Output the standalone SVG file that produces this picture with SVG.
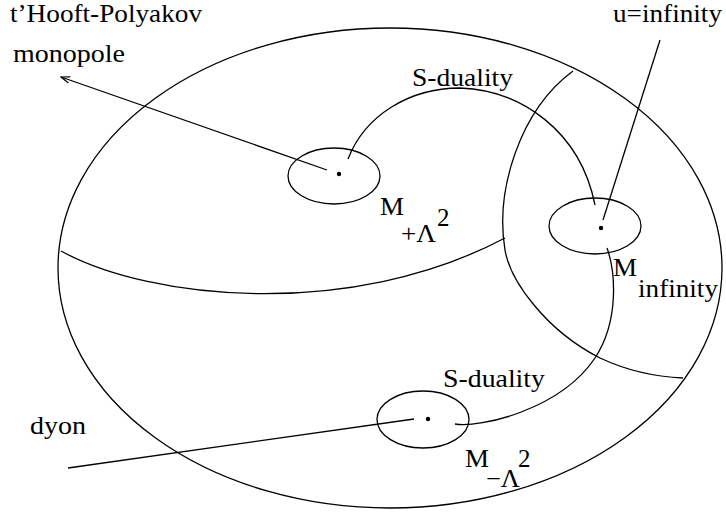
<svg xmlns="http://www.w3.org/2000/svg" width="726" height="514" viewBox="0 0 726 514">
<style>
.ln{fill:none;stroke:#000;stroke-width:1.3}
.t{font-family:'Liberation Serif','Times New Roman',serif;font-size:25px;fill:#000}
.dot{fill:#000}
</style>
<defs>
<marker id="ah" markerWidth="10" markerHeight="8" refX="9" refY="4" orient="auto" markerUnits="userSpaceOnUse">
<path d="M0,0.8 L9,4 L0,7.2" fill="none" stroke="#000" stroke-width="1.2"/>
</marker>
</defs>
<g id="plane"><ellipse class="ln" cx="390" cy="268" rx="332" ry="240"/></g>
<g id="connectors">
<path class="ln" d="M573,71 C520,110 495,190 505,250 C510,280 545,330 600,358 C630,372 660,377 683,378"/>
<path class="ln" d="M61,251 C150,300 350,320 505,238"/>
<path class="ln" d="M348,159 C365,115 410,88 460,88 C520,90 580,130 595,205"/>
<path class="ln" d="M455,424 C480,428 560,410 595,358 C620,320 615,270 607,248"/>
<line class="ln" x1="327" y1="170" x2="61" y2="77" marker-end="url(#ah)"/>
<line class="ln" x1="414" y1="419" x2="68" y2="468"/>
<line class="ln" x1="660" y1="40" x2="603" y2="220"/>
</g>
<g id="node-plus"><ellipse class="ln" cx="334" cy="176" rx="46" ry="28"/><circle class="dot" cx="339" cy="174" r="2.2"/>
<text class="t" x="380" y="215" textLength="24" lengthAdjust="spacingAndGlyphs">M</text><text class="t" x="401" y="242" textLength="35" lengthAdjust="spacingAndGlyphs">+Λ</text><text class="t" x="437" y="226">2</text></g>
<g id="node-inf"><ellipse class="ln" cx="595" cy="226" rx="46" ry="28"/><circle class="dot" cx="601" cy="228" r="2.2"/>
<text class="t" x="613" y="276" textLength="24" lengthAdjust="spacingAndGlyphs">M</text><text class="t" x="638" y="297" textLength="80" lengthAdjust="spacingAndGlyphs">infinity</text></g>
<g id="node-minus"><ellipse class="ln" cx="423" cy="419.5" rx="46" ry="28.5"/><circle class="dot" cx="428" cy="419" r="2.2"/>
<text class="t" x="465" y="467" textLength="24" lengthAdjust="spacingAndGlyphs">M</text><text class="t" x="486" y="487" textLength="34" lengthAdjust="spacingAndGlyphs">−Λ</text><text class="t" x="518" y="467">2</text></g>
<g id="labels">
<text class="t" x="10" y="22" textLength="192" lengthAdjust="spacingAndGlyphs">t’Hooft-Polyakov</text>
<text class="t" x="13" y="62" textLength="112" lengthAdjust="spacingAndGlyphs">monopole</text>
<text class="t" x="613" y="22" textLength="109" lengthAdjust="spacingAndGlyphs">u=infinity</text>
<text class="t" x="412" y="86" textLength="101" lengthAdjust="spacingAndGlyphs">S-duality</text>
<text class="t" x="443" y="387" textLength="102" lengthAdjust="spacingAndGlyphs">S-duality</text>
<text class="t" x="30" y="434" textLength="56" lengthAdjust="spacingAndGlyphs">dyon</text>
</g>
</svg>
